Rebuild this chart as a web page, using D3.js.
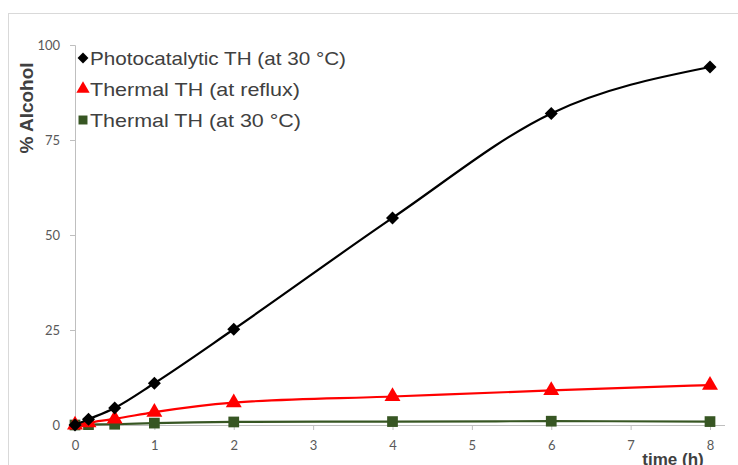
<!DOCTYPE html>
<html>
<head>
<meta charset="utf-8">
<script src="https://cdn.jsdelivr.net/npm/d3@7"></script>
<style>
  body { margin: 0; background: #fff; }
</style>
</head>
<body>
<div id="chart"></div>
<script>

// data
let times = [0, 0.17, 0.5, 1, 2, 4, 6, 8];
let photoValues = [0, 1.5, 4.5, 11, 25.2, 54.5, 82, 94.2];
let refluxValues = [0, 0.6, 1.6, 3.4, 5.9, 7.5, 9.1, 10.5];
let thermal30Values = [0, 0.1, 0.2, 0.5, 0.8, 0.9, 1, 0.9];
let xTicks = [0, 1, 2, 3, 4, 5, 6, 7, 8];
let yTicks = [0, 25, 50, 75, 100];
let seriesNames = ["Photocatalytic TH (at 30 °C)", "Thermal TH (at reflux)", "Thermal TH (at 30 °C)"];

let W = 738, H = 465;

let svg = d3.select("#chart").append("svg")
  .attr("width", W)
  .attr("height", H);

// outer chart frame (runs off the right and bottom edge)
svg.append("rect")
  .attr("x", 8.5).attr("y", 13.5)
  .attr("width", 760).attr("height", 480)
  .style("fill", "none")
  .style("stroke", "#d9d9d9");

let x = d3.scaleLinear().domain([0, 8]).range([75, 710]);
let y = d3.scaleLinear().domain([0, 100]).range([425, 45]);

let tickFont = "Lato, 'Open Sans', sans-serif";

// y axis
let yAxis = svg.append("g")
  .attr("transform", "translate(" + x(0) + ",0)")
  .call(d3.axisLeft(y).tickValues(yTicks).tickSize(5).tickPadding(10));
yAxis.select(".domain").attr("d", "M-5," + (y(100) + 0.5) + "H0.5V" + y(0));

// x axis
let xAxis = svg.append("g")
  .attr("transform", "translate(0," + y(0) + ")")
  .call(d3.axisBottom(x).tickValues(xTicks).tickSize(5).tickPadding(11));
xAxis.select(".domain").attr("d", "M" + x(0) + ",0.5H725");

svg.selectAll(".tick text")
  .style("font-family", tickFont)
  .style("font-size", "13px")
  .style("fill", "#595959");
svg.selectAll(".tick line, .domain")
  .style("stroke", "#bfbfbf")
  .style("stroke-width", 1);

// axis titles
svg.append("text")
  .attr("transform", "translate(33,108) rotate(-90)")
  .attr("text-anchor", "middle")
  .style("font-family", "'Liberation Sans', Arial, sans-serif")
  .style("font-weight", "bold")
  .style("font-size", "19px")
  .style("fill", "#404040")
  .text("% Alcohol");

svg.append("text")
  .attr("x", 673).attr("y", 465)
  .attr("text-anchor", "middle")
  .style("font-family", "'Liberation Sans', Arial, sans-serif")
  .style("font-weight", "bold")
  .style("font-size", "17px")
  .style("fill", "#404040")
  .text("time (h)");

let series = [
  { name: seriesNames[0], values: photoValues, color: "#000000", symbol: d3.symbolSquare, size: 85, rot: 45, textW: 256 },
  { name: seriesNames[1], values: refluxValues, color: "#ff0000", symbol: d3.symbolTriangle, size: 110, rot: 0, textW: 210 },
  { name: seriesNames[2], values: thermal30Values, color: "#375623", symbol: d3.symbolSquare, size: 115, rot: 0, textW: 211 }
];

let line = d3.line()
  .x(function(d, i) { return x(times[i]); })
  .y(function(d) { return y(d); })
  .curve(d3.curveMonotoneX);

// draw last series first so the black curve sits on top
let groups = svg.selectAll("g.series")
  .data(series.slice().reverse())
  .enter()
  .append("g")
  .attr("class", "series");

groups.append("path")
  .attr("d", function(d) { return line(d.values); })
  .style("fill", "none")
  .style("stroke", function(d) { return d.color; })
  .style("stroke-width", 2.2);

groups.each(function(s) {
  d3.select(this).selectAll("path.mark")
    .data(s.values)
    .enter()
    .append("path")
    .attr("class", "mark")
    .call(makeMarks, s);
});

//Given a selection of marker paths, put them at the data points
function makeMarks(selection, s) {
  selection.attr("d", d3.symbol().type(s.symbol).size(s.size))
    .attr("transform", function(d, i) {
      return "translate(" + x(times[i]) + "," + y(d) + ") rotate(" + s.rot + ")";
    })
    .style("fill", s.color);
}

// legend
let legend = svg.selectAll("g.legend")
  .data(series)
  .enter()
  .append("g")
  .attr("class", "legend")
  .attr("transform", function(d, i) { return "translate(83," + (58 + i * 31) + ")"; });

legend.append("path")
  .attr("d", function(d) { return d3.symbol().type(d.symbol).size(d.size * 0.7)(); })
  .attr("transform", function(d) { return "rotate(" + d.rot + ")"; })
  .style("fill", function(d) { return d.color; });

legend.append("text")
  .attr("x", 7).attr("y", 7)
  .attr("textLength", function(d) { return d.textW; })
  .attr("lengthAdjust", "spacingAndGlyphs")
  .style("font-family", "'Liberation Sans Narrow', 'Arial Narrow', sans-serif")
  .style("font-size", "19px")
  .style("fill", "#404040")
  .text(function(d) { return d.name; });

</script>
</body>
</html>
